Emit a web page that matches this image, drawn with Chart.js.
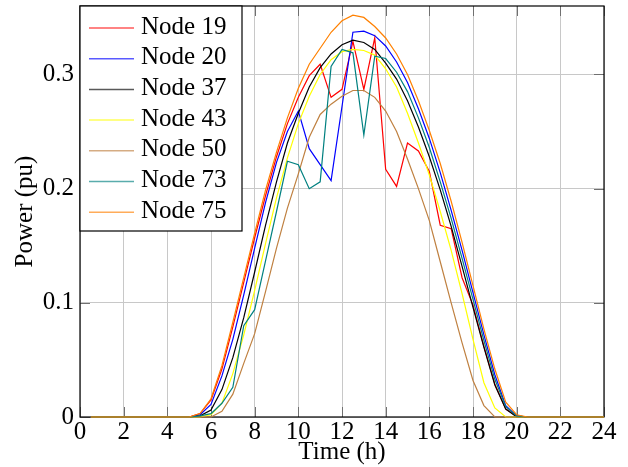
<!DOCTYPE html>
<html>
<head>
<meta charset="utf-8">
<script src="https://cdn.jsdelivr.net/npm/chart.js@4"></script>
<style>
  html, body { margin: 0; padding: 0; background: #fff; }
  #wrap { width: 628px; height: 467px; }
</style>
</head>
<body>
<div id="wrap"><canvas id="chart" width="628" height="467"></canvas></div>
<script>
// Half-hourly PV output per node.
const TIME_H = [0.5, 1, 1.5, 2, 2.5, 3, 3.5, 4, 4.5, 5, 5.5, 6, 6.5, 7, 7.5, 8, 8.5, 9, 9.5, 10,
  10.5, 11, 11.5, 12, 12.5, 13, 13.5, 14, 14.5, 15, 15.5, 16, 16.5, 17, 17.5, 18, 18.5, 19, 19.5, 20,
  20.5, 21, 21.5, 22, 22.5, 23, 23.5, 24];

const NODE_19 = [0, 0, 0, 0, 0, 0, 0, 0, 0, 0,
  0.003, 0.015, 0.042, 0.079, 0.118, 0.157, 0.194, 0.228, 0.257, 0.280,
  0.299, 0.309, 0.280, 0.287, 0.329, 0.287, 0.332, 0.217, 0.202, 0.240,
  0.233, 0.215, 0.168, 0.165, 0.122, 0.098, 0.062, 0.029, 0.007, 0.001,
  0, 0, 0, 0, 0, 0, 0, 0];
const NODE_20 = [0, 0, 0, 0, 0, 0, 0, 0, 0, 0,
  0.002, 0.011, 0.036, 0.068, 0.107, 0.148, 0.188, 0.223, 0.250, 0.268,
  0.235, 0.221, 0.207, 0.272, 0.337, 0.338, 0.334, 0.325, 0.311, 0.293,
  0.270, 0.244, 0.214, 0.181, 0.146, 0.109, 0.072, 0.037, 0.010, 0.001,
  0, 0, 0, 0, 0, 0, 0, 0];
const NODE_37 = [0, 0, 0, 0, 0, 0, 0, 0, 0, 0,
  0.001, 0.006, 0.024, 0.052, 0.087, 0.127, 0.168, 0.206, 0.240, 0.266,
  0.289, 0.306, 0.318, 0.326, 0.330, 0.328, 0.322, 0.310, 0.296, 0.277,
  0.254, 0.228, 0.199, 0.167, 0.132, 0.096, 0.061, 0.028, 0.007, 0,
  0, 0, 0, 0, 0, 0, 0, 0];
const NODE_43 = [0, 0, 0, 0, 0, 0, 0, 0, 0, 0,
  0, 0.002, 0.012, 0.038, 0.072, 0.111, 0.152, 0.192, 0.227, 0.257,
  0.281, 0.300, 0.313, 0.320, 0.322, 0.321, 0.317, 0.305, 0.289, 0.266,
  0.240, 0.212, 0.180, 0.146, 0.108, 0.068, 0.030, 0.008, 0, 0,
  0, 0, 0, 0, 0, 0, 0, 0];
const NODE_50 = [0, 0, 0, 0, 0, 0, 0, 0, 0, 0,
  0, 0, 0.005, 0.020, 0.047, 0.073, 0.110, 0.148, 0.183, 0.213,
  0.245, 0.265, 0.274, 0.281, 0.286, 0.286, 0.280, 0.268, 0.250, 0.226,
  0.200, 0.172, 0.136, 0.100, 0.065, 0.032, 0.010, 0, 0, 0,
  0, 0, 0, 0, 0, 0, 0, 0];
const NODE_73 = [0, 0, 0, 0, 0, 0, 0, 0, 0, 0,
  0.001, 0.003, 0.012, 0.026, 0.080, 0.094, 0.137, 0.180, 0.224, 0.221,
  0.200, 0.206, 0.307, 0.322, 0.319, 0.247, 0.316, 0.314, 0.302, 0.285,
  0.262, 0.236, 0.206, 0.174, 0.139, 0.103, 0.067, 0.033, 0.009, 0.001,
  0, 0, 0, 0, 0, 0, 0, 0];
const NODE_75 = [0, 0, 0, 0, 0, 0, 0, 0, 0, 0,
  0.003, 0.016, 0.045, 0.083, 0.122, 0.161, 0.199, 0.232, 0.262, 0.288,
  0.309, 0.323, 0.337, 0.347, 0.352, 0.350, 0.342, 0.332, 0.318, 0.300,
  0.277, 0.251, 0.222, 0.189, 0.153, 0.115, 0.077, 0.042, 0.013, 0.002,
  0, 0, 0, 0, 0, 0, 0, 0];

const SERIES_LABELS = ["Node 19", "Node 20", "Node 37", "Node 43", "Node 50", "Node 73", "Node 75"];
const SERIES_VALUES = [NODE_19, NODE_20, NODE_37, NODE_43, NODE_50, NODE_73, NODE_75];
const SERIES_COLORS = ["#ff0000", "#0000ff", "#000000", "#ffff00", "#bf8040", "#008080", "#ff8000"];

const X_TICKS = [0, 2, 4, 6, 8, 10, 12, 14, 16, 18, 20, 22, 24];
const Y_TICKS = [0, 0.1, 0.2, 0.3];
const Y_TICK_LABELS = ["0", "0.1", "0.2", "0.3"];

const FONT = "'Liberation Serif', 'Times New Roman', serif";
const FONT_SIZE = 25;

// pgfplots-style frame: inward tick marks on all four sides plus the black box.
const frame = {
  id: "frame",
  beforeDatasetsDraw(chart) {
    const { ctx, chartArea: a, scales } = chart;
    const len = 10;
    ctx.save();
    ctx.strokeStyle = "#707070";
    ctx.lineWidth = 1;
    X_TICKS.forEach((t) => {
      const x = Math.round(scales.x.getPixelForValue(t)) + 0.5;
      ctx.beginPath();
      ctx.moveTo(x, a.bottom); ctx.lineTo(x, a.bottom - len);
      ctx.moveTo(x, a.top); ctx.lineTo(x, a.top + len);
      ctx.stroke();
    });
    Y_TICKS.forEach((t) => {
      const y = Math.round(scales.y.getPixelForValue(t)) + 0.5;
      ctx.beginPath();
      ctx.moveTo(a.left, y); ctx.lineTo(a.left + len, y);
      ctx.moveTo(a.right, y); ctx.lineTo(a.right - len, y);
      ctx.stroke();
    });
    ctx.strokeStyle = "#000";
    ctx.lineWidth = 1.2;
    ctx.strokeRect(a.left, a.top, a.right - a.left, a.bottom - a.top);
    ctx.restore();
  },
  afterDatasetsDraw(chart) {
    // legend box in the upper-left corner of the plot
    const { ctx, chartArea: a } = chart;
    const rowH = 30.7;
    const boxW = 162, boxH = 225;
    ctx.save();
    ctx.fillStyle = "#fff";
    ctx.fillRect(a.left, a.top, boxW, boxH);
    ctx.strokeStyle = "#000";
    ctx.lineWidth = 1.2;
    ctx.strokeRect(a.left, a.top, boxW, boxH);
    ctx.font = FONT_SIZE + "px " + FONT;
    ctx.textBaseline = "middle";
    SERIES_LABELS.forEach((label, i) => {
      const y = a.top + 22 + i * rowH;
      ctx.globalAlpha = 0.65;
      ctx.strokeStyle = SERIES_COLORS[i];
      ctx.lineWidth = 1.5;
      ctx.beginPath();
      ctx.moveTo(a.left + 9, y); ctx.lineTo(a.left + 54, y);
      ctx.stroke();
      ctx.globalAlpha = 1;
      ctx.fillStyle = "#000";
      ctx.fillText(label, a.left + 61, y - 1);
    });
    ctx.restore();
  },
};

const datasets = SERIES_LABELS.map((label, i) => ({
  label,
  data: TIME_H.map((t, j) => ({ x: t, y: SERIES_VALUES[i][j] })),
  borderColor: SERIES_COLORS[i],
  backgroundColor: SERIES_COLORS[i],
  borderWidth: 1.2,
  pointRadius: 0,
  tension: 0,
  fill: false,
  clip: 4,
  order: SERIES_LABELS.length - i,
}));

new Chart(document.getElementById("chart").getContext("2d"), {
  type: "line",
  data: { datasets },
  plugins: [frame],
  options: {
    responsive: false,
    animation: false,
    events: [],
    layout: { padding: { top: 6, right: 24, left: 0, bottom: 0 } },
    plugins: { legend: { display: false }, tooltip: { enabled: false } },
    scales: {
      x: {
        type: "linear",
        min: 0,
        max: 24,
        afterBuildTicks: (s) => { s.ticks = X_TICKS.map((v) => ({ value: v })); },
        afterFit: (s) => { s.height = 50; s.paddingLeft = 0; s.paddingRight = 0; },
        grid: { color: "#c8c8c8", lineWidth: 1, drawTicks: false },
        border: { display: false },
        ticks: { color: "#000", font: { family: FONT, size: FONT_SIZE }, padding: 0, maxRotation: 0, autoSkip: false },
        title: { display: true, text: "Time (h)", color: "#000", font: { family: FONT, size: FONT_SIZE }, padding: { top: 0, bottom: 0 } },
      },
      y: {
        type: "linear",
        min: 0,
        max: 0.36,
        afterBuildTicks: (s) => { s.ticks = Y_TICKS.map((v) => ({ value: v })); },
        afterFit: (s) => { s.width = 80; s.paddingTop = 0; s.paddingBottom = 0; },
        grid: { color: "#c8c8c8", lineWidth: 1, drawTicks: false },
        border: { display: false },
        ticks: {
          color: "#000",
          font: { family: FONT, size: FONT_SIZE },
          padding: 6,
          autoSkip: false,
          callback: (v) => Y_TICK_LABELS[Y_TICKS.indexOf(v)] ?? "",
        },
        title: { display: true, text: "Power (pu)", color: "#000", font: { family: FONT, size: FONT_SIZE }, padding: { top: 10, bottom: 0 } },
      },
    },
  },
});
</script>
</body>
</html>
